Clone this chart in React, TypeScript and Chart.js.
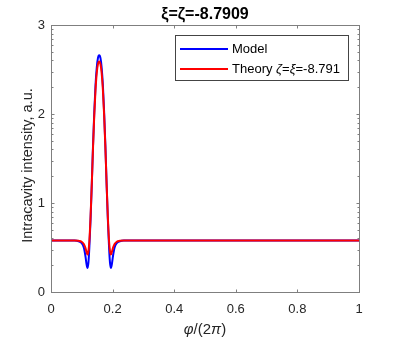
import React, { useEffect, useRef } from "react";
import { Chart, registerables } from "chart.js";

Chart.register(...registerables);

const title = "ξ=ζ=-8.7909";
const xLabelParts = ["φ", "/(2", "π", ")"];
const yLabel = "Intracavity intensity, a.u.";
const xTicks = [0, 0.2, 0.4, 0.6, 0.8, 1];
const yTicks = [0, 1, 2, 3];

const phi = [
  0, 0.05, 0.0765, 0.0895, 0.0995, 0.1065, 0.1115, 0.1155, 0.1185, 0.1215,
  0.1245, 0.1285, 0.1325, 0.1365, 0.1405, 0.1445, 0.1485, 0.1525, 0.1565,
  0.1605, 0.1645, 0.1685, 0.1725, 0.1765, 0.1805, 0.1845, 0.1885, 0.1915,
  0.1945, 0.1975, 0.2015, 0.2065, 0.2135, 0.2235, 0.2365, 0.3, 1.0,
];

const model = [
  0.58, 0.58, 0.578, 0.57, 0.55, 0.5, 0.41, 0.31, 0.27, 0.33,
  0.5, 0.82, 1.22, 1.65, 2.02, 2.32, 2.52, 2.63, 2.66,
  2.63, 2.52, 2.32, 2.02, 1.65, 1.22, 0.82, 0.5, 0.33,
  0.27, 0.31, 0.41, 0.5, 0.55, 0.57, 0.578, 0.58, 0.58,
];

const theory = [
  0.58, 0.58, 0.58, 0.575, 0.565, 0.54, 0.5, 0.45, 0.42, 0.46,
  0.57, 0.85, 1.22, 1.63, 1.99, 2.27, 2.46, 2.56, 2.59,
  2.56, 2.46, 2.27, 1.99, 1.63, 1.22, 0.85, 0.57, 0.46,
  0.42, 0.45, 0.5, 0.54, 0.565, 0.575, 0.58, 0.58, 0.58,
];

const legendModel = "Model";
const legendTheory = ["Theory ", "ζ", "=", "ξ", "=-8.791"];

const FONT = "'Liberation Sans', Arial, Helvetica, sans-serif";
const TXT = "#262626";
const AXC = "#7f7f7f";

function drawParts(ctx: any, parts: string[], italicSet: string[], size: number, cx: number, cy: number) {
  let total = 0;
  const widths = parts.map((p) => {
    ctx.font = `${italicSet.includes(p) ? "italic " : ""}${size}px ${FONT}`;
    const w = ctx.measureText(p).width;
    total += w;
    return w;
  });
  let x = cx - total / 2;
  ctx.textAlign = "left";
  parts.forEach((p, i) => {
    ctx.font = `${italicSet.includes(p) ? "italic " : ""}${size}px ${FONT}`;
    ctx.fillText(p, x, cy);
    x += widths[i];
  });
}

const decorPlugin = {
  id: "decor",
  afterDraw(chart: any) {
    const { ctx, chartArea, scales } = chart;
    const { left, right, top, bottom } = chartArea;
    const x = scales.x;
    const y = scales.y;
    ctx.save();
    ctx.strokeStyle = AXC;
    ctx.lineWidth = 1;
    const L = Math.round(left) + 0.5;
    const R = Math.round(right) + 0.5;
    const T = Math.round(top) + 0.5;
    const B = Math.round(bottom) + 0.5;
    ctx.strokeRect(L, T, R - L, B - T);
    ctx.beginPath();
    for (const v of xTicks) {
      const px = Math.round(x.getPixelForValue(v)) + 0.5;
      ctx.moveTo(px, B);
      ctx.lineTo(px, B - 3);
      ctx.moveTo(px, T);
      ctx.lineTo(px, T + 3);
    }
    for (const v of yTicks) {
      const py = Math.round(y.getPixelForValue(v)) + 0.5;
      ctx.moveTo(L, py);
      ctx.lineTo(L + 3, py);
      ctx.moveTo(R, py);
      ctx.lineTo(R - 3, py);
    }
    for (let n = 0; n < 3; n++) {
      for (let k = 2; k <= 9; k++) {
        const py = Math.round(y.getPixelForValue(n + Math.log10(k))) + 0.5;
        ctx.moveTo(L, py);
        ctx.lineTo(L + 2, py);
        ctx.moveTo(R, py);
        ctx.lineTo(R - 2, py);
      }
    }
    ctx.stroke();

    // title
    ctx.fillStyle = "#000";
    ctx.font = `bold 16px ${FONT}`;
    ctx.textAlign = "center";
    ctx.textBaseline = "alphabetic";
    ctx.fillText(title, (left + right) / 2, 19);

    // x label
    ctx.fillStyle = TXT;
    drawParts(ctx, xLabelParts, ["φ", "π"], 15, (left + right) / 2, 334);

    // y label
    ctx.save();
    ctx.translate(32, (top + bottom) / 2 + 7);
    ctx.rotate(-Math.PI / 2);
    ctx.font = `14.5px ${FONT}`;
    ctx.textAlign = "center";
    ctx.fillText(yLabel, 0, 0);
    ctx.restore();

    // legend
    const lx = 175.5, ly = 35.5, lw = 173, lh = 45;
    ctx.fillStyle = "#fff";
    ctx.fillRect(lx, ly, lw, lh);
    ctx.strokeStyle = "#444";
    ctx.lineWidth = 1;
    ctx.strokeRect(lx, ly, lw, lh);
    const rows = [
      { color: "#0000ff", y: 49 },
      { color: "#ff0000", y: 69 },
    ];
    for (const r of rows) {
      ctx.strokeStyle = r.color;
      ctx.lineWidth = 2;
      ctx.beginPath();
      ctx.moveTo(180, r.y);
      ctx.lineTo(228, r.y);
      ctx.stroke();
    }
    ctx.fillStyle = "#000";
    ctx.textAlign = "left";
    ctx.textBaseline = "middle";
    ctx.font = `13px ${FONT}`;
    ctx.fillText(legendModel, 232, 49);
    let cx = 232;
    legendTheory.forEach((seg) => {
      const italic = seg === "ζ" || seg === "ξ";
      ctx.font = `${italic ? "italic " : ""}13px ${FONT}`;
      ctx.fillText(seg, cx, 69);
      cx += ctx.measureText(seg).width;
    });
    ctx.restore();
  },
};

export default function App() {
  const ref = useRef<HTMLCanvasElement | null>(null);
  useEffect(() => {
    if (!ref.current) return;
    const chart = new Chart(ref.current, {
      type: "line",
      data: {
        datasets: [
          {
            label: legendModel,
            data: phi.map((p, i) => ({ x: p, y: model[i] })),
            borderColor: "#0000ff",
            borderWidth: 2,
            pointRadius: 0,
            cubicInterpolationMode: "monotone",
            fill: false,
            order: 2,
          },
          {
            label: legendTheory.join(""),
            data: phi.map((p, i) => ({ x: p, y: theory[i] })),
            borderColor: "#ff0000",
            borderWidth: 2,
            pointRadius: 0,
            cubicInterpolationMode: "monotone",
            fill: false,
            order: 1,
          },
        ],
      },
      options: {
        responsive: false,
        animation: false,
        layout: { padding: { left: 0, right: 40, top: 25, bottom: 0 } },
        plugins: {
          legend: { display: false },
          title: { display: false },
          tooltip: { enabled: false },
        },
        scales: {
          x: {
            type: "linear",
            min: 0,
            max: 1,
            afterFit: (s: any) => {
              s.height = 48;
            },
            afterBuildTicks: (s: any) => {
              s.ticks = xTicks.map((v) => ({ value: v }));
            },
            grid: { display: false, drawTicks: false },
            border: { display: false },
            ticks: {
              padding: 10,
              color: TXT,
              font: { family: FONT, size: 13 },
              maxRotation: 0,
              callback: (v: any) => String(Math.round(Number(v) * 10) / 10),
            },
          },
          y: {
            type: "linear",
            min: 0,
            max: 3,
            afterFit: (s: any) => {
              s.width = 51;
            },
            afterBuildTicks: (s: any) => {
              s.ticks = yTicks.map((v) => ({ value: v }));
            },
            grid: { display: false, drawTicks: false },
            border: { display: false },
            ticks: {
              padding: 6,
              color: TXT,
              font: { family: FONT, size: 13 },
              callback: (v: any) => String(v),
            },
          },
        },
      },
      plugins: [decorPlugin],
    });
    return () => chart.destroy();
  }, []);
  return (
    <div style={{ position: "absolute", left: 0, top: 0, width: 399, height: 340, background: "#fff" }}>
      <canvas ref={ref} width={399} height={340} style={{ width: 399, height: 340, display: "block" }} />
    </div>
  );
}
